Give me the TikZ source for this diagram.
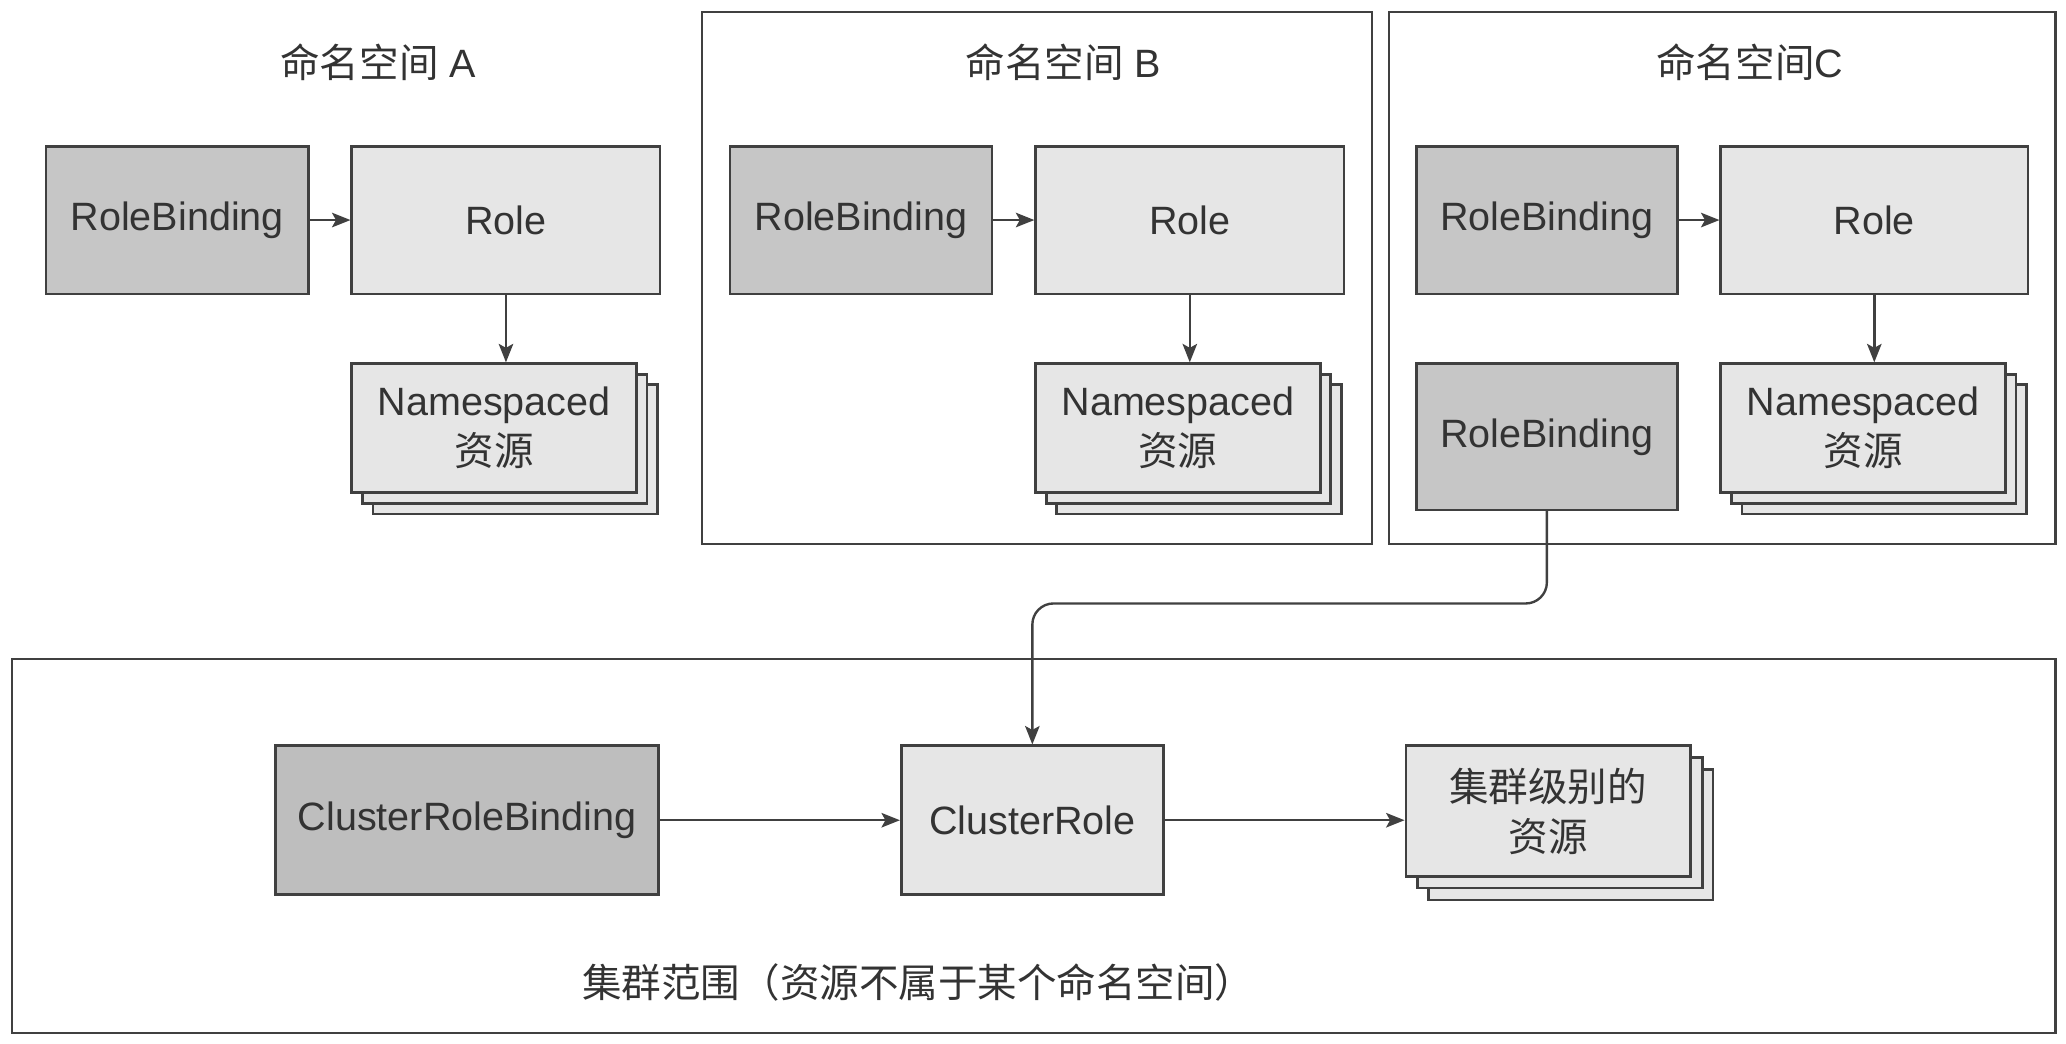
\documentclass[tikz,border=0pt]{standalone}
\usepackage{fontspec}
\setmainfont{Liberation Sans}
\newfontfamily\cjk{Noto Sans CJK SC}
\usetikzlibrary{arrows.meta,calc}
\definecolor{ink}{HTML}{333333}
\definecolor{edge}{HTML}{404040}
\definecolor{darkfill}{HTML}{C6C6C6}
\definecolor{lightfill}{HTML}{E6E6E6}
\definecolor{cfill}{HTML}{BEBEBE}
\begin{document}
\begin{tikzpicture}[x=0.5pt,y=-0.5pt,
  txt/.style={font=\fontsize{15pt}{19pt}\selectfont, text=ink},
  bx/.style={draw=edge, line width=1pt, inner sep=0pt, txt, align=center},
  dark/.style={bx, fill=darkfill},
  light/.style={bx, fill=lightfill},
  frame/.style={draw=edge, line width=0.8pt},
  stackbox/.style={draw=edge, line width=1pt, fill=lightfill},
  conn/.style={draw=edge, line width=0.9pt, -{Stealth[length=7pt,width=5.5pt,inset=1.5pt]}},
  title/.style={txt}
]
\useasboundingbox (0,0) rectangle (1568,792);
\fill[white] (0,0) rectangle (1568,792);

% frames
\draw[frame] (533,9) rectangle (1041,413);
\draw[frame] (1054,9) rectangle (1560,413);
\draw[frame] (9,500) rectangle (1560,784);

% titles
\node[title] (tA) at (287,47) {{\cjk 命名空间} A};
\node[title] (tB) at (807,47) {{\cjk 命名空间} B};
\node[title] (tC) at (1328,47) {{\cjk 命名空间}C};

% Namespace A
\node[dark, minimum width=99.5pt, minimum height=56pt] (rbA) at (134.5,167) {RoleBinding};
\node[light, minimum width=117pt, minimum height=56pt] (rA) at (384,167) {Role};
\draw[stackbox] (283,292) rectangle (499,390);
\draw[stackbox] (275,284) rectangle (491,382);
\node[light, minimum width=108pt, minimum height=49pt] (nA) at (375,325) {Namespaced\\{\cjk 资源}};

% Namespace B
\node[dark, minimum width=99.5pt, minimum height=56pt] (rbB) at (653.5,167) {RoleBinding};
\node[light, minimum width=117pt, minimum height=56pt] (rB) at (903,167) {Role};
\draw[stackbox] (802,292) rectangle (1018,390);
\draw[stackbox] (794,284) rectangle (1010,382);
\node[light, minimum width=108pt, minimum height=49pt] (nB) at (894,325) {Namespaced\\{\cjk 资源}};

% Namespace C
\node[dark, minimum width=99pt, minimum height=56pt] (rbC) at (1174,167) {RoleBinding};
\node[light, minimum width=116.5pt, minimum height=56pt] (rC) at (1422.5,167) {Role};
\node[dark, minimum width=99pt, minimum height=55.5pt] (rbC2) at (1174,331.5) {RoleBinding};
\draw[stackbox] (1322,292) rectangle (1538,390);
\draw[stackbox] (1314,284) rectangle (1530,382);
\node[light, minimum width=108pt, minimum height=49pt] (nC) at (1414,325) {Namespaced\\{\cjk 资源}};

% Cluster scope
\node[bx, fill=cfill, minimum width=145.5pt, minimum height=56.5pt] (crb) at (354.5,622.5) {ClusterRoleBinding};
\node[light, minimum width=99.5pt, minimum height=56.5pt] (cr) at (783.5,622.5) {ClusterRole};
\draw[stackbox] (1084,584) rectangle (1300,683);
\draw[stackbox] (1076,575) rectangle (1292,674);
\node[light, minimum width=108pt, minimum height=49.5pt] (cres) at (1175,615.5) {{\cjk 集群级别的}\\{\cjk 资源}};
\node[txt] (clabel) at (697,746) {\cjk 集群范围（资源不属于某个命名空间）};

% connectors
\draw[conn] (rbA) -- (rA);
\draw[conn] (rA.south) -- (rA.south |- nA.north);
\draw[conn] (rbB) -- (rB);
\draw[conn] (rB.south) -- (rB.south |- nB.north);
\draw[conn] (rbC) -- (rC);
\draw[conn] (rC.south) -- (rC.south |- nC.north);
\draw[conn] (crb) -- (cr);
\draw[conn] (cr.east) -- (cr.east -| cres.west);
\coordinate (turn) at (1174,458);
\draw[conn, rounded corners=8pt] (rbC2.south) -- (turn) -| (cr.north);
\end{tikzpicture}
\end{document}
